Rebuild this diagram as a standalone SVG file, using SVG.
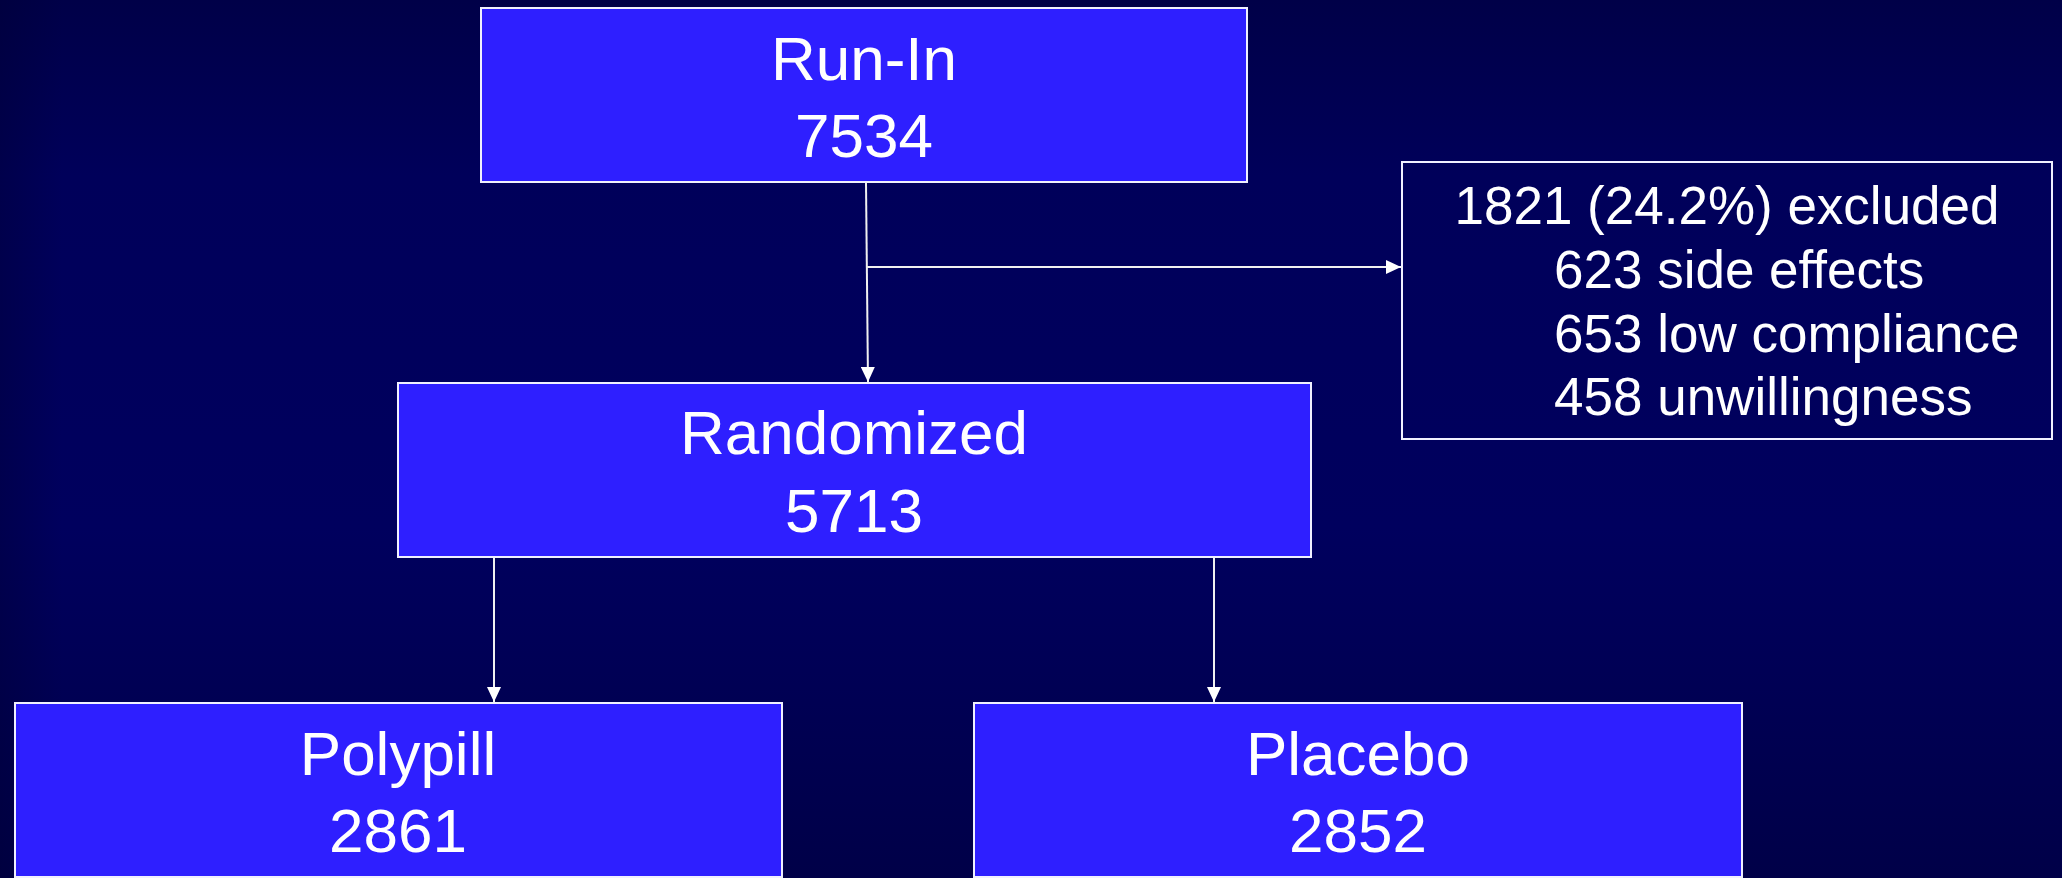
<svg xmlns="http://www.w3.org/2000/svg" width="2062" height="878" viewBox="0 0 2062 878">
  <defs>
    <linearGradient id="bg" x1="0" y1="0" x2="0" y2="1">
      <stop offset="0" stop-color="#000048"/>
      <stop offset="0.2" stop-color="#00005A"/>
      <stop offset="0.6" stop-color="#00005E"/>
      <stop offset="1" stop-color="#000048"/>
    </linearGradient>
    <linearGradient id="side" x1="0" y1="0" x2="1" y2="0">
      <stop offset="0" stop-color="#000030" stop-opacity="0.35"/>
      <stop offset="0.03" stop-color="#000030" stop-opacity="0"/>
      <stop offset="1" stop-color="#000030" stop-opacity="0"/>
    </linearGradient>
    <marker id="arr" viewBox="0 0 15 14" refX="15" refY="7" markerWidth="15" markerHeight="14" markerUnits="userSpaceOnUse" orient="auto">
      <path d="M0,0 L15,7 L0,14 Z" fill="#FFFFFF"/>
    </marker>
    <style>
      .box { fill: #2E1FFF; stroke: #F0F0FF; stroke-width: 2; }
      .outline { fill: none; stroke: #F0F0FF; stroke-width: 2; }
      .t { font-family: "Liberation Sans", Arial, sans-serif; font-size: 62px; fill: #FFFFFF; text-anchor: middle; }
      .s { font-family: "Liberation Sans", Arial, sans-serif; font-size: 53px; fill: #FFFFFF; }
      .c { stroke: #F0F0F0; stroke-width: 2; fill: none; }
    </style>
  </defs>
  <rect x="0" y="0" width="2062" height="878" fill="url(#bg)"/>
  <rect x="0" y="0" width="2062" height="878" fill="url(#side)"/>

  <g id="connectors">
    <line class="c" x1="866" y1="183" x2="868" y2="382" marker-end="url(#arr)"/>
    <line class="c" x1="867" y1="267" x2="1401" y2="267" marker-end="url(#arr)"/>
    <line class="c" x1="494" y1="558" x2="494" y2="702" marker-end="url(#arr)"/>
    <line class="c" x1="1214" y1="558" x2="1214" y2="702" marker-end="url(#arr)"/>
  </g>

  <g id="runin">
    <rect class="box" x="481" y="8" width="766" height="174"/>
    <text class="t" x="864" y="80">Run-In</text>
    <text class="t" x="864" y="157">7534</text>
  </g>

  <g id="excluded">
    <rect class="outline" x="1402" y="162" width="650" height="277"/>
    <text class="s" x="1727" y="224" text-anchor="middle">1821 (24.2%) excluded</text>
    <text class="s" x="1554" y="288">623 side effects</text>
    <text class="s" x="1554" y="352">653 low compliance</text>
    <text class="s" x="1554" y="415">458 unwillingness</text>
  </g>

  <g id="randomized">
    <rect class="box" x="398" y="383" width="913" height="174"/>
    <text class="t" x="854" y="454">Randomized</text>
    <text class="t" x="854" y="532">5713</text>
  </g>

  <g id="polypill">
    <rect class="box" x="15" y="703" width="767" height="174"/>
    <text class="t" x="398" y="775">Polypill</text>
    <text class="t" x="398" y="852">2861</text>
  </g>

  <g id="placebo">
    <rect class="box" x="974" y="703" width="768" height="174"/>
    <text class="t" x="1358" y="775">Placebo</text>
    <text class="t" x="1358" y="852">2852</text>
  </g>
</svg>
